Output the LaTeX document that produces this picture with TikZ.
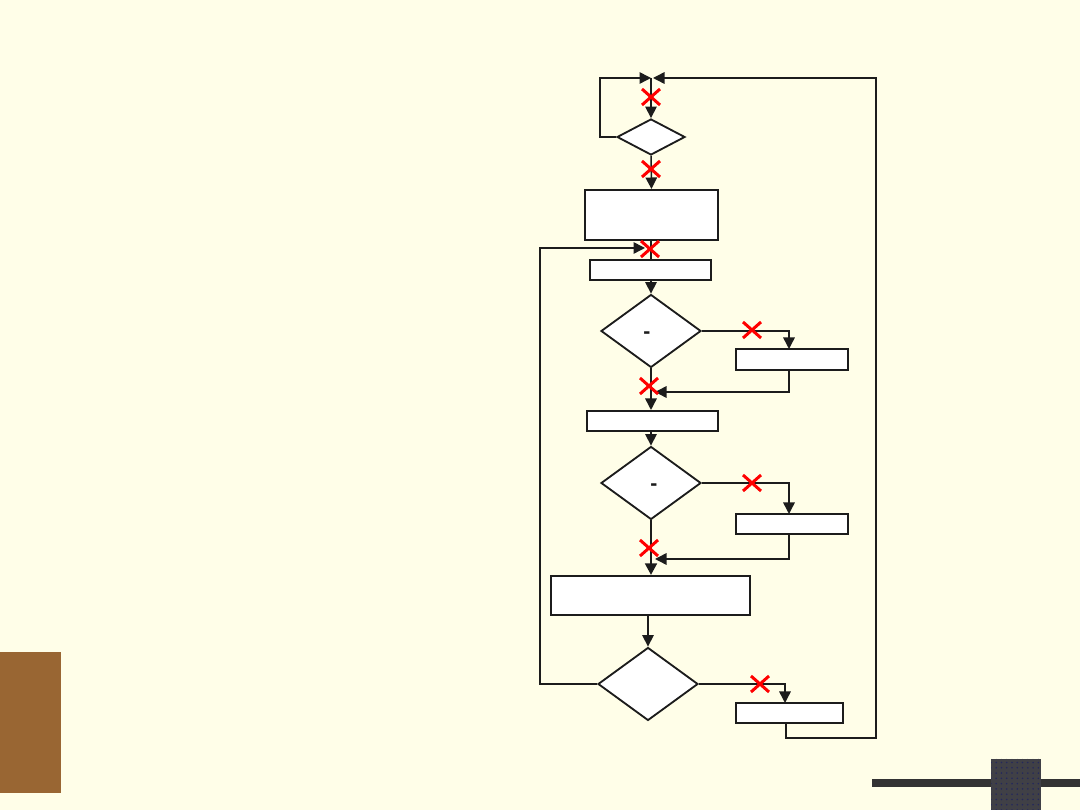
\documentclass[tikz,border=0pt]{standalone}
\usepackage{fontspec}
\newfontfamily\arialb{Liberation Sans}
\usetikzlibrary{shapes.geometric,arrows.meta,patterns}
\definecolor{bgc}{RGB}{255,254,232}
\definecolor{brownc}{RGB}{153,102,51}
\definecolor{linec}{RGB}{28,28,28}
\definecolor{barc}{RGB}{51,51,51}
\definecolor{sqc}{RGB}{64,64,70}
\definecolor{dotc}{RGB}{36,40,92}
\tikzset{
  boxn/.style={draw=linec,line width=1.15pt,fill=white,rectangle,inner sep=0pt},
  dia/.style={draw=linec,line width=1.05pt,fill=white,diamond,inner sep=0pt},
  conn/.style={draw=linec,line width=0.85pt},
  arr/.style={conn,-{Triangle[length=0.23cm,width=0.23cm]}},
  xmark/.pic={\draw[red,line width=1.7pt] (-9,-8) -- (9,8) (-9,8) -- (9,-8);},
  dashtxt/.style={font=\arialb\fontsize{12}{12}\selectfont\bfseries,inner sep=0pt,text=linec}
}
\begin{document}
\begin{tikzpicture}[x=0.02cm,y=-0.02cm]
\useasboundingbox (0,0) rectangle (1080,810);
\fill[bgc] (0,0) rectangle (1080,810);
% decorations
\fill[brownc] (0,652) rectangle (61,793);
\fill[barc] (872,779) rectangle (1080,787);
\fill[sqc] (991,759) rectangle (1041,810);
\fill[pattern=dots,pattern color=dotc] (991,759) rectangle (1041,810);
% nodes
\node[dia,minimum width=1.36cm,minimum height=0.72cm] (d1) at (651,137) {};
\node[boxn,minimum width=2.66cm,minimum height=1.0cm] (b1) at (651.5,215) {};
\node[boxn,minimum width=2.42cm,minimum height=0.4cm] (b2) at (650.5,270) {};
\node[dia,minimum width=2.0cm,minimum height=1.46cm] (d2) at (651,331) {};
\node[dashtxt] (t2) at (647,335) {-};
\node[boxn,minimum width=2.24cm,minimum height=0.42cm] (b3) at (792,359.5) {};
\node[boxn,minimum width=2.62cm,minimum height=0.4cm] (b4) at (652.5,421) {};
\node[dia,minimum width=2.0cm,minimum height=1.46cm] (d3) at (651,483) {};
\node[dashtxt] (t3) at (654,487) {-};
\node[boxn,minimum width=2.24cm,minimum height=0.4cm] (b5) at (792,524) {};
\node[boxn,minimum width=3.98cm,minimum height=0.78cm] (b6) at (650.5,595.5) {};
\node[dia,minimum width=2.0cm,minimum height=1.46cm] (d4) at (648,684) {};
\node[boxn,minimum width=2.14cm,minimum height=0.4cm] (b7) at (789.5,713) {};
% coordinates
\coordinate (top) at (651,78);
\coordinate (tl) at (600,78);
\coordinate (lb) at (600,137);
\coordinate (loopin) at (645,248);
\coordinate (ll) at (540,684);
\coordinate (lt) at (540,248);
\coordinate (j2) at (655,392);
\coordinate (j3) at (655,559);
\coordinate (rb) at (876,738);
\coordinate (rt) at (876,78);
\coordinate (tr) at (653,78);
\coordinate (b3in) at (789,349);
\coordinate (b5in) at (789,514);
\coordinate (b7in) at (785,703);
% connectors
\draw[arr] (d1.west) -- (lb) -- (tl) -- (top);
\draw[arr] ([xshift=-0.07cm]b7.south) |- (rb) -- (rt) -- (tr);
\draw[arr] (top) -- (d1.north);
\draw[arr] (d1.south) -- (b1.north);
\draw[conn] (b1.south -| d1.south) -- (b2.north -| d1.south);
\draw[arr] (d4.west) -- (ll) -- (lt) -- (loopin);
\draw[arr] (b2.south -| d2.north) -- (d2.north);
\draw[arr] (d2.east) -| (b3in);
\draw[arr] (b3in |- b3.south) |- (j2);
\draw[arr] (d2.south) -- (d2.south |- b4.north);
\draw[arr] (b4.south -| d3.north) -- (d3.north);
\draw[arr] (d3.east) -| (b5in);
\draw[arr] (b5in |- b5.south) |- (j3);
\draw[arr,line width=1.6pt] (d3.south) -- (d3.south |- b6.north);
\draw[arr] (b6.south -| d4.north) -- (d4.north);
\draw[arr] (d4.east) -| (b7in);
% red crosses
\pic at (651,97) {xmark};
\pic at (651,169) {xmark};
\pic at (650,249) {xmark};
\pic at (752,330) {xmark};
\pic at (649,386) {xmark};
\pic at (752,483) {xmark};
\pic at (649,548) {xmark};
\pic at (760,684) {xmark};
\end{tikzpicture}
\end{document}
